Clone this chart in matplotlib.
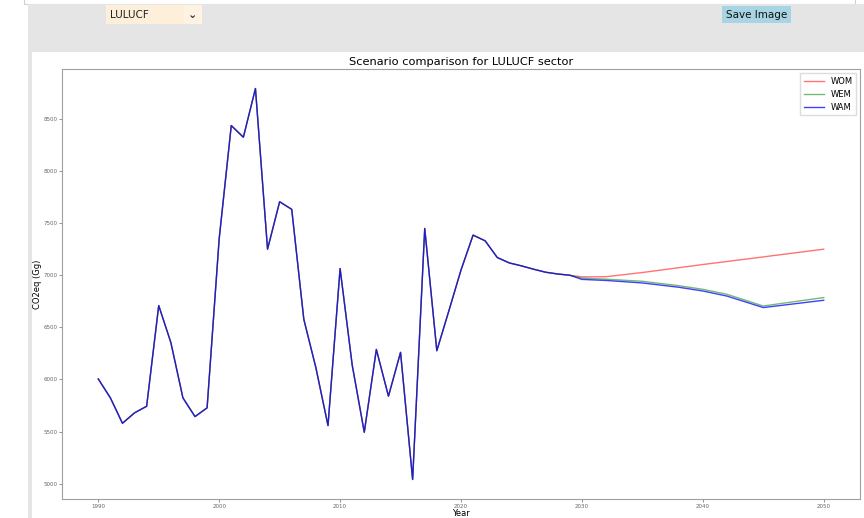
import matplotlib
matplotlib.use("Agg")
import matplotlib.pyplot as plt
from matplotlib.patches import Rectangle

# historical LULUCF emissions (shared by all scenarios)
hist_years = list(range(1990, 2030))
hist_values = [6005, 5824, 5580, 5680, 5743, 6709, 6356, 5824, 5644, 5728,
               7350, 8436, 8324, 8791, 7250, 7705, 7632, 6577, 6112, 5558,
               7064, 6140, 5494, 6288, 5840, 6260, 5041, 7449, 6276, 6660,
               7050, 7385, 7330, 7170, 7118, 7090, 7058, 7029, 7012, 7000]

# projections
proj_years = [2030, 2032, 2035, 2038, 2040, 2042, 2045, 2050]
wom_proj = [6984, 6986, 7026, 7072, 7103, 7132, 7176, 7250]
wem_proj = [6972, 6962, 6942, 6900, 6865, 6817, 6705, 6786]
wam_proj = [6960, 6950, 6926, 6885, 6849, 6800, 6690, 6760]

scenarios = ["WOM", "WEM", "WAM"]
colors = ["red", "green", "blue"]
alphas = [0.55, 0.55, 0.75]
x_ticks = [1990, 2000, 2010, 2020, 2030, 2040, 2050]
y_ticks = [5000, 5500, 6000, 6500, 7000, 7500, 8000, 8500]

W, H = 864, 518
fig = plt.figure(figsize=(W / 100, H / 100), dpi=100)
fig.patch.set_facecolor("white")


def px_rect(x0, y0, x1, y1, **kw):
    # rectangle in screen pixels (origin top-left)
    r = Rectangle((x0 / W, 1 - y1 / H), (x1 - x0) / W, (y1 - y0) / H,
                  transform=fig.transFigure, zorder=-5, **kw)
    fig.patches.append(r)
    return r


def px_text(x, y, s, **kw):
    fig.text(x / W, 1 - y / H, s, **kw)


# page chrome around the chart
px_rect(24, -2, 855, 4, facecolor="white", edgecolor="#d0d0d0", lw=0.8)
px_rect(28, 4, 864, 52, facecolor="#e5e5e5", edgecolor="none")
px_rect(28, 4, 32, 518, facecolor="#e5e5e5", edgecolor="none")

# dropdown
px_rect(106, 5, 202, 24, facecolor="#fdefd9", edgecolor="none")
px_rect(184, 5, 202, 24, facecolor="#fef3e3", edgecolor="none")
px_text(110, 15, "LULUCF", fontsize=7.5, va="center", ha="left", color="#222222")
px_text(193, 15, "\u2304", fontsize=8, va="center", ha="center", color="#333333",
        fontweight="bold")

# save button
px_rect(722, 6, 791, 23, facecolor="#a7d5e3", edgecolor="none")
px_text(756.5, 15, "Save Image", fontsize=7.5, va="center", ha="center", color="#111111")

# chart
ax = fig.add_axes([62 / W, 1 - 499 / H, (860 - 62) / W, (499 - 69) / H])

series = [wom_proj, wem_proj, wam_proj]
for name, proj, c, a in zip(scenarios, series, colors, alphas):
    ax.plot(hist_years + proj_years, hist_values + proj, color=c, lw=1.0,
            alpha=a, label=name)

ax.set_xticks(x_ticks)
ax.set_yticks(y_ticks)
ax.tick_params(labelsize=4, length=2, width=0.5, colors="#666666", pad=1.5)
for s in ax.spines.values():
    s.set_color("#a0a0a0")
    s.set_linewidth(0.8)

ax.set_title("Scenario comparison for LULUCF sector", fontsize=8.2, pad=3)
ax.set_xlabel("Year", fontsize=6, labelpad=0)
ax.set_ylabel("CO2eq (Gg)", fontsize=6, labelpad=1)

ax.legend(loc="upper right", fontsize=6, handlelength=2.4, framealpha=1,
          edgecolor="#dddddd", fancybox=False)

fig.savefig("out.png", dpi=100)
